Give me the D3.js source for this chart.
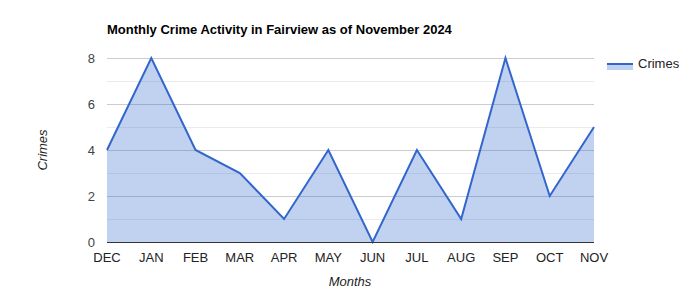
<!DOCTYPE html>
<html><head><meta charset="utf-8">
<script src="https://cdn.jsdelivr.net/npm/d3@7"></script>
<style>body{margin:0;background:#fff;}svg{display:block;font-family:Arial,"Liberation Sans",sans-serif;}</style>
</head><body><svg id="c" width="700" height="300"></svg>
<script>
const months = ["DEC","JAN","FEB","MAR","APR","MAY","JUN","JUL","AUG","SEP","OCT","NOV"];
const crimes = [4,8,4,3,1,4,0,4,1,8,2,5];
const yTicks = [0,2,4,6,8];
const yMinor = [1,3,5,7];
const seriesName = "Crimes";

(function(){
const svg = d3.select("#c");
const pL = 107, pR = 594, pT = 58, pB = 242;
const x = d3.scalePoint().domain(months).range([pL, pR]);
const y = d3.scaleLinear().domain([0, 8]).range([pB, pT]);
const color = "#3366cc";

svg.append("text").attr("x", 107).attr("y", 34).attr("font-size", 13).attr("font-weight", "bold").attr("fill", "#000")
  .text("Monthly Crime Activity in Fairview as of November 2024");

svg.append("g").selectAll("line").data(yMinor).join("line")
  .attr("x1", pL).attr("x2", pR).attr("y1", d => y(d)).attr("y2", d => y(d))
  .attr("stroke", "#ebebeb").attr("stroke-width", 1).attr("shape-rendering", "crispEdges");
svg.append("g").selectAll("line").data(yTicks.filter(d => d !== 0)).join("line")
  .attr("x1", pL).attr("x2", pR).attr("y1", d => y(d)).attr("y2", d => y(d))
  .attr("stroke", "#cccccc").attr("stroke-width", 1).attr("shape-rendering", "crispEdges");

const data = months.map((m, i) => ({m, v: crimes[i]}));
svg.append("path").datum(data)
  .attr("d", d3.area().x(d => x(d.m)).y0(y(0)).y1(d => y(d.v)))
  .attr("fill", color).attr("fill-opacity", 0.3);
svg.append("path").datum(data)
  .attr("d", d3.line().x(d => x(d.m)).y(d => y(d.v)))
  .attr("fill", "none").attr("stroke", color).attr("stroke-width", 2).attr("stroke-linejoin", "miter");

svg.append("line").attr("x1", pL).attr("x2", pR).attr("y1", y(0)).attr("y2", y(0))
  .attr("stroke", "#333").attr("stroke-width", 1).attr("shape-rendering", "crispEdges");

svg.append("g").selectAll("text").data(yTicks).join("text")
  .attr("x", 95).attr("y", d => y(d) + 5).attr("text-anchor", "end").attr("font-size", 13).attr("fill", "#444")
  .text(d => d);
svg.append("g").selectAll("text").data(months).join("text")
  .attr("x", d => x(d)).attr("y", 262).attr("text-anchor", "middle").attr("font-size", 13).attr("fill", "#222")
  .text(d => d);

svg.append("text").attr("x", 350).attr("y", 286).attr("text-anchor", "middle").attr("font-size", 13)
  .attr("font-style", "italic").attr("fill", "#222").text("Months");
svg.append("text").attr("transform", "translate(47,150) rotate(-90)").attr("text-anchor", "middle").attr("font-size", 13)
  .attr("font-style", "italic").attr("fill", "#222").text("Crimes");

const lg = svg.append("g");
lg.append("rect").attr("x", 607).attr("y", 64).attr("width", 26).attr("height", 6).attr("fill", color).attr("fill-opacity", 0.3);
lg.append("line").attr("x1", 607).attr("x2", 633).attr("y1", 64).attr("y2", 64).attr("stroke", color).attr("stroke-width", 2);
lg.append("text").attr("x", 638).attr("y", 68).attr("font-size", 13).attr("fill", "#222").text(seriesName);
})();
</script></body></html>
